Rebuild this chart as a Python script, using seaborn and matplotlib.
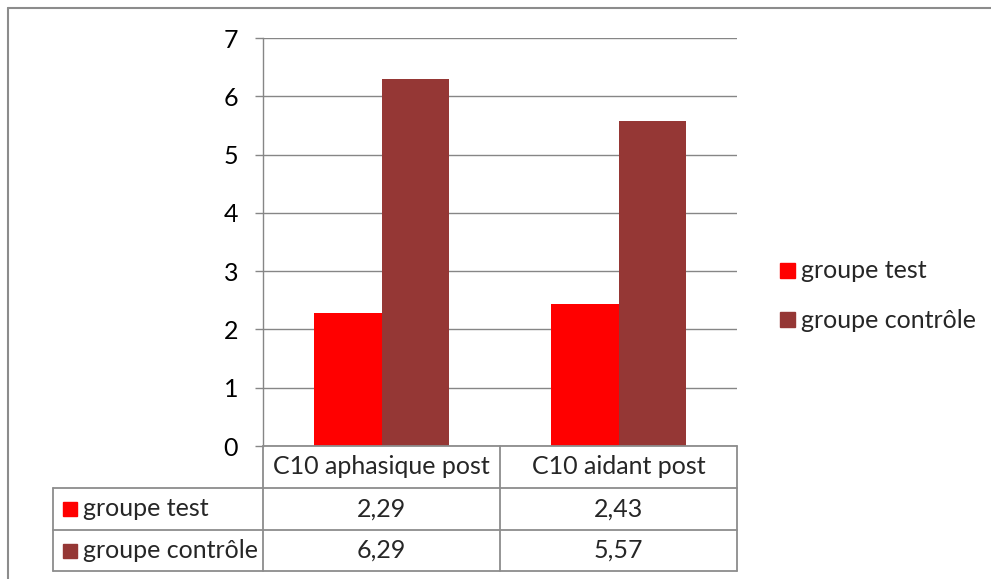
import matplotlib
matplotlib.use("Agg")
import matplotlib.pyplot as plt
from matplotlib.lines import Line2D
from matplotlib.patches import Rectangle
import pandas as pd
import seaborn as sns

# Chart data
categories = ["C10 aphasique post", "C10 aidant post"]
series_names = ["groupe test", "groupe contrôle"]
groupe_test = [2.29, 2.43]
groupe_controle = [6.29, 5.57]
y_ticks = [0, 1, 2, 3, 4, 5, 6, 7]
colors = ["#FF0000", "#953735"]

df = pd.DataFrame({
    "categorie": categories * 2,
    "groupe": [series_names[0]] * 2 + [series_names[1]] * 2,
    "valeur": groupe_test + groupe_controle,
})

sns.set_theme(style="white")
plt.rcParams["font.family"] = ["Lato", "DejaVu Sans"]

W, H = 991, 579
fig = plt.figure(figsize=(W / 100, H / 100), dpi=100)

def fx(px):
    return px / W

def fy(py):
    return 1 - py / H

ax_l, ax_r, ax_t, ax_b = 263, 737, 38, 446
ax = fig.add_axes([fx(ax_l), fy(ax_b), fx(ax_r - ax_l), (ax_b - ax_t) / H])

sns.barplot(data=df, x="categorie", y="valeur", hue="groupe",
            palette=colors, width=0.566, gap=0, ax=ax, legend=False,
            saturation=1, edgecolor="none", linewidth=0)

fs = 18
grey = "#868686"
ax.set_ylim(0, 7)
ax.set_xlim(-0.5, 1.5)
ax.set_yticks(y_ticks)
ax.set_yticklabels([str(t) for t in y_ticks], fontsize=fs, color="black")
ax.yaxis.grid(True, color=grey, linewidth=1)
ax.set_axisbelow(True)
ax.tick_params(axis="y", direction="out", length=6, width=1, color=grey, pad=12, left=True)
ax.set_xticks([])
ax.set_xlabel("")
ax.set_ylabel("")
for s in ["top", "right", "bottom"]:
    ax.spines[s].set_visible(False)
ax.spines["left"].set_color(grey)
ax.spines["left"].set_linewidth(1)

# Data table under the axis
col_x = [53, 263, 500, 737]
row_y = [446, 488, 530, 571]
lc = "#8c8c8c"

def hline(x0, x1, y):
    fig.add_artist(Line2D([fx(x0), fx(x1)], [fy(y), fy(y)], color=lc, linewidth=1.3))

def vline(x, y0, y1):
    fig.add_artist(Line2D([fx(x), fx(x)], [fy(y0), fy(y1)], color=lc, linewidth=1.3))

hline(263, 737, 446)
hline(53, 737, 488)
hline(53, 737, 530)
hline(53, 737, 571)
vline(53, 488, 571)
vline(263, 446, 571)
vline(500, 446, 571)
vline(737, 446, 571)

for i, cat in enumerate(categories):
    cx = (col_x[i + 1] + col_x[i + 2]) / 2
    fig.text(fx(cx), fy((row_y[0] + row_y[1]) / 2), cat, ha="center", va="center", fontsize=fs)

rows = [groupe_test, groupe_controle]
for r, (name, vals) in enumerate(zip(series_names, rows)):
    yc = (row_y[r + 1] + row_y[r + 2]) / 2
    fig.add_artist(Rectangle((fx(63), fy(yc + 7)), fx(14), 14 / H, color=colors[r],
                             transform=fig.transFigure))
    fig.text(fx(83), fy(yc), name, ha="left", va="center", fontsize=fs)
    for i, v in enumerate(vals):
        cx = (col_x[i + 1] + col_x[i + 2]) / 2
        fig.text(fx(cx), fy(yc), f"{v:.2f}".replace(".", ","), ha="center", va="center", fontsize=fs)

# Legend on the right
for r, name in enumerate(series_names):
    yc = 271 + r * 49
    fig.add_artist(Rectangle((fx(780), fy(yc + 7)), fx(15), 15 / H, color=colors[r],
                             transform=fig.transFigure))
    fig.text(fx(801), fy(yc), name, ha="left", va="center", fontsize=fs)

# Outer chart frame
fig.add_artist(Line2D([fx(8), fx(8)], [fy(8), 0], color="#8c8c8c", linewidth=1.5))
fig.add_artist(Line2D([fx(8), 1], [fy(8), fy(8)], color="#8c8c8c", linewidth=1.5))

fig.savefig("out.png", dpi=100)
